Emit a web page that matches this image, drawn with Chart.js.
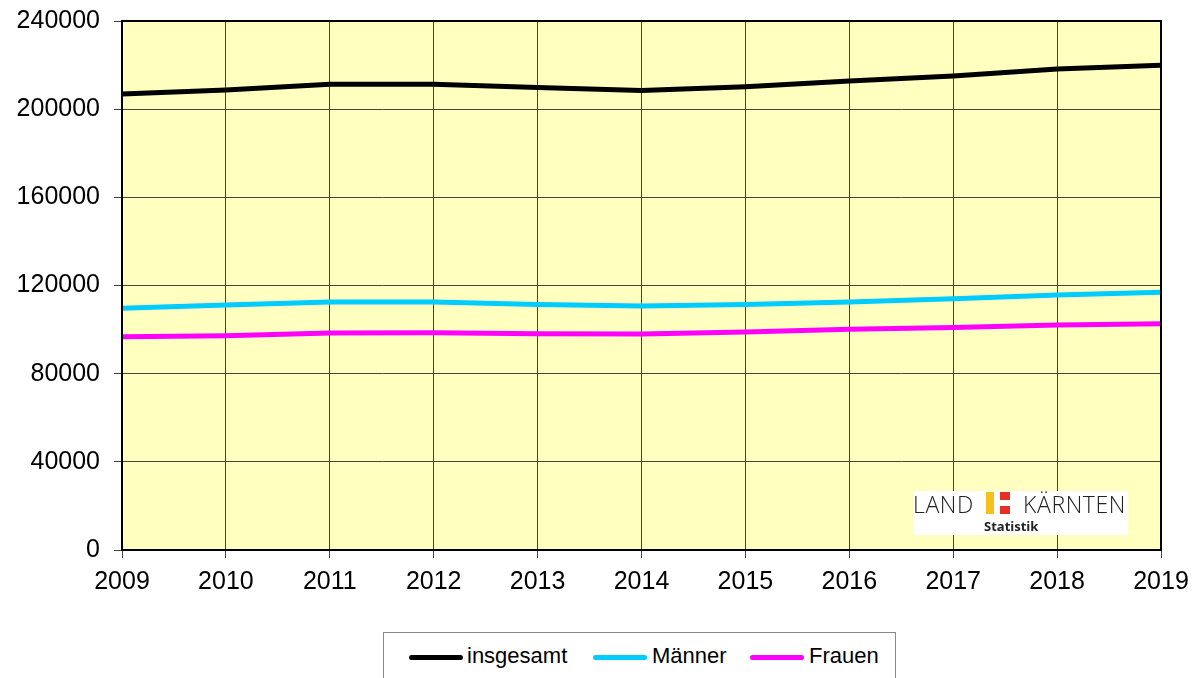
<!DOCTYPE html>
<html>
<head>
<meta charset="utf-8">
<script src="https://cdn.jsdelivr.net/npm/chart.js@4.4.0/dist/chart.umd.min.js"></script>
<style>
  body { margin: 0; background: #fff; font-family: "Liberation Sans", Arial, sans-serif; }
  #wrap { position: relative; width: 1200px; height: 678px; overflow: hidden; }
  #chart { position: absolute; left: 0; top: -8px; }
  #legend {
    position: absolute; left: 383px; top: 632px; width: 513px; height: 60px;
    border: 1px solid #888; box-sizing: border-box; background: #fff;
  }
  .item { position: absolute; top: 10px; font-size: 22px; color: #000; line-height: 26px; }
  .sw { position: absolute; top: 11px; width: 54px; height: 5px; border-radius: 3px; }
  #logo {
    position: absolute; left: 913px; top: 491px; width: 215px; height: 44px; background: #fff;
  }
  .lt { position: absolute; top: -3px; font-family: "Open Sans", "DejaVu Sans", sans-serif; font-size: 23px; font-weight: 300; color: #222; letter-spacing: 0.6px; }
</style>
</head>
<body>
<div id="wrap">
  <canvas id="chart" width="1200" height="686"></canvas>
  <div id="logo">
    <span class="lt" style="left:0">LAND</span>
    <div style="position:absolute;left:73px;top:1px;width:8px;height:22px;background:#f6c21a"></div>
    <div style="position:absolute;left:87px;top:1px;width:10px;height:8px;background:#e53027"></div>
    <div style="position:absolute;left:87px;top:15px;width:10px;height:8px;background:#e53027"></div>
    <span class="lt" style="left:110px">KÄRNTEN</span>
    <span style="position:absolute;left:71px;top:26px;font-family:'Open Sans',sans-serif;font-size:13px;font-weight:bold;color:#222">Statistik</span>
  </div>
  <div id="legend">
    <div class="sw" style="left:25px;top:22px;background:#000"></div>
    <span class="item" style="left:83px">insgesamt</span>
    <div class="sw" style="left:209px;top:22px;background:#00ccff"></div>
    <span class="item" style="left:268px">Männer</span>
    <div class="sw" style="left:366px;top:22px;background:#ff00ff"></div>
    <span class="item" style="left:425px">Frauen</span>
  </div>
</div>
<script>
const years = ["2009", "2010", "2011", "2012", "2013", "2014", "2015", "2016", "2017", "2018", "2019"];
const insgesamt = [206900, 208700, 211300, 211300, 209800, 208500, 210200, 212800, 215000, 218200, 219900];
const maenner = [109700, 111100, 112500, 112500, 111400, 110700, 111400, 112500, 114000, 115700, 116900];
const frauen = [96800, 97200, 98400, 98600, 98100, 98000, 98900, 100100, 101000, 102100, 102700];
const yTicks = [0, 40000, 80000, 120000, 160000, 200000, 240000];

const plotBg = {
  id: "plotBg",
  beforeDraw(chart) {
    const { ctx, chartArea: a } = chart;
    ctx.save();
    ctx.fillStyle = "#ffffc0";
    ctx.fillRect(a.left, a.top, a.right - a.left, a.bottom - a.top);
    ctx.restore();
  },
  afterDatasetsDraw(chart) {
    const { ctx, chartArea: a } = chart;
    ctx.save();
    ctx.strokeStyle = "#000";
    ctx.lineWidth = 2;
    ctx.strokeRect(a.left, a.top, a.right - a.left, a.bottom - a.top);
    ctx.restore();
  }
};

const ds = (label, data, color) => ({
  label, data, borderColor: color, backgroundColor: color,
  borderWidth: 5, pointRadius: 0, tension: 0, fill: false
});

const tickFont = { family: "Liberation Sans", size: 25 };

new Chart(document.getElementById("chart"), {
  type: "line",
  data: {
    labels: years,
    datasets: [
      ds("insgesamt", insgesamt, "#000000"),
      ds("Männer", maenner, "#00ccff"),
      ds("Frauen", frauen, "#ff00ff")
    ]
  },
  options: {
    responsive: false,
    animation: false,
    layout: { padding: { left: 0, top: 7, right: 39, bottom: 0 } },
    plugins: { legend: { display: false }, tooltip: { enabled: false } },
    scales: {
      x: {
        offset: false,
        grid: { color: "#444", lineWidth: 1, tickLength: 8, offset: false },
        border: { color: "#000", width: 2 },
        ticks: { color: "#000", font: tickFont, padding: 9, maxRotation: 0 },
        afterFit: s => { s.height = 128; }
      },
      y: {
        min: 0, max: 240000,
        afterBuildTicks: s => { s.ticks = yTicks.map(v => ({ value: v })); },
        grid: { color: "#444", lineWidth: 1, tickLength: 8 },
        border: { color: "#000", width: 2 },
        ticks: { color: "#000", font: tickFont, padding: 14, callback: v => String(v) },
        afterFit: s => { s.width = 122; }
      }
    }
  },
  plugins: [plotBg]
});
</script>
</body>
</html>
